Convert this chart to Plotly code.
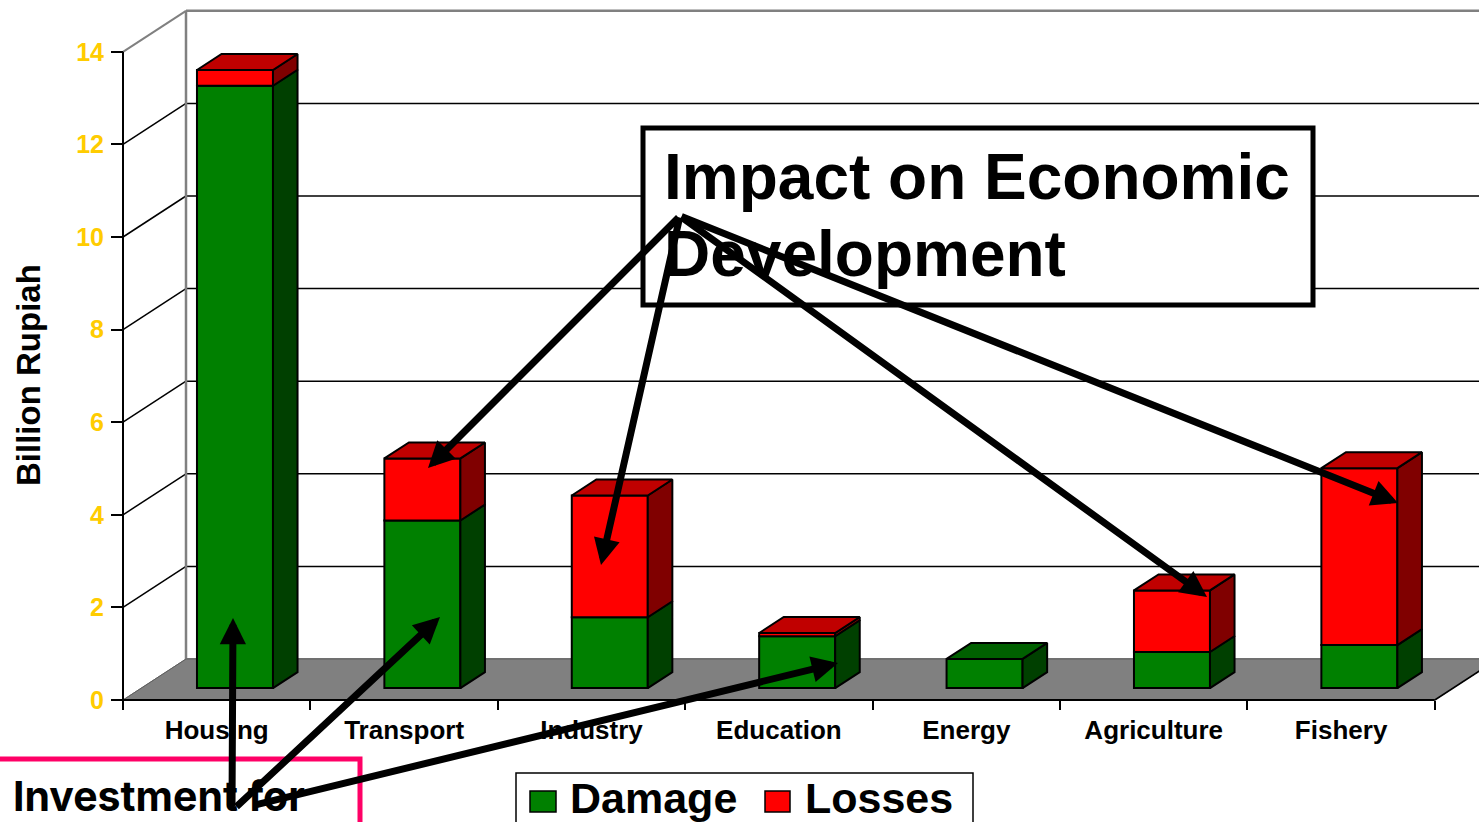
import plotly.graph_objects as go

categories = ["Housing", "Transport", "Industry", "Education", "Energy", "Agriculture", "Fishery"]
damage = [13.01, 3.62, 1.53, 1.12, 0.63, 0.78, 0.93]
losses = [0.34, 1.34, 2.63, 0.07, 0.0, 1.33, 3.82]
y_ticks = [0, 2, 4, 6, 8, 10, 12, 14]

W, H = 1479, 822
X0, PX_CAT = 123, 187.4      # pixel of category edge 0, pixels per category
Y0, PX_VAL = 700, 46.3       # pixel of value 0, pixels per unit
DX, DY = 63, 41              # full depth of the 3D box, pixels
FONT = "Liberation Sans"
BAR_W = 76 / PX_CAT
D_FRONT, D_BACK = 0.29, 0.68


def fx(px):
    return (px - X0) / PX_CAT


def fy(py):
    return (Y0 - py) / PX_VAL


def proj(c, v, d):
    """Project (category position, value, depth 0..1) on to the flat axes."""
    return c + d * DX / PX_CAT, v + d * DY / PX_VAL


centers = [i + 0.5 for i in range(len(categories))]
bar_x = [proj(c, 0, D_FRONT)[0] for c in centers]
base0 = proj(0, 0, D_FRONT)[1]
tops_d = [base0 + v for v in damage]

fig = go.Figure()
fig.add_bar(x=bar_x, y=damage, base=[base0] * 7, width=BAR_W, name="Damage",
            marker=dict(color="#008000", line=dict(color="black", width=2)), showlegend=False)
vis = [l if l > 0 else None for l in losses]
fig.add_bar(x=bar_x, y=vis, base=tops_d, width=BAR_W, name="Losses",
            marker=dict(color="#FF0000", line=dict(color="black", width=2)), showlegend=False)


def side_face(c, v0, v1):
    l = c + BAR_W / 2
    pts = [proj(l, v0, 0), proj(l, v1, 0), proj(l, v1, D_BACK - D_FRONT), proj(l, v0, D_BACK - D_FRONT), proj(l, v0, 0)]
    return pts


def top_face(c, v):
    a, b = c - BAR_W / 2, c + BAR_W / 2
    d = D_BACK - D_FRONT
    return [proj(a, v, 0), proj(b, v, 0), proj(b, v, d), proj(a, v, d), proj(a, v, 0)]


def poly_trace(polys, color, name):
    xs, ys = [], []
    for p in polys:
        xs += [q[0] for q in p] + [None]
        ys += [q[1] for q in p] + [None]
    fig.add_scatter(x=xs, y=ys, mode="lines", fill="toself", fillcolor=color, name=name,
                    line=dict(color="black", width=2), showlegend=False, hoverinfo="skip")


poly_trace([side_face(x, base0, t) for x, t in zip(bar_x, tops_d)], "#004000", "Damage side")
poly_trace([side_face(x, t, t + l) for x, t, l in zip(bar_x, tops_d, losses) if l > 0], "#800000", "Losses side")
poly_trace([top_face(x, t) for x, t, l in zip(bar_x, tops_d, losses) if l == 0], "#006000", "Damage top")
poly_trace([top_face(x, t + l) for x, t, l in zip(bar_x, tops_d, losses) if l > 0], "#C00000", "Losses top")

# ---- walls, floor, gridlines (below the bars)
shapes = []
n = len(categories)
right = fx(W + 10)


def line(p, q, color="black", width=1.5, layer="below"):
    shapes.append(dict(type="line", xref="x", yref="y", x0=p[0], y0=p[1], x1=q[0], y1=q[1],
                       line=dict(color=color, width=width), layer=layer))


fl = [proj(0, 0, 0), proj(n, 0, 0), proj(n, 0, 1), proj(right, 0, 1), proj(0, 0, 1)]
path = "M" + " L".join(f"{a},{b}" for a, b in fl) + " Z"
shapes.append(dict(type="path", xref="x", yref="y", path=path, fillcolor="#808080",
                   line=dict(color="#707070", width=1), layer="below"))
for t in y_ticks[1:-1]:
    line(proj(0, t, 0), proj(0, t, 1))
    line(proj(0, t, 1), proj(right, t, 1))
line(proj(0, 14, 0), proj(0, 14, 1), "#808080", 2)
line(proj(0, 14, 1), proj(right, 14, 1), "#808080", 2.5)
line(proj(0, 0, 1), proj(0, 14, 1), "#808080", 2.5)
line(proj(0, 0, 1), proj(right, 0, 1), "#707070", 2)
line(proj(0, 0, 0), proj(0, 0, 1), "#606060", 1)
line(proj(n, 0, 0), proj(n, 0, 1), "black", 1.5)
line((0, 0), (0, 14), "black", 2)
line((0, 0), (n, 0), "black", 2)


def px_rect(x0, y0, x1, y1, lc, lw, fill="white"):
    shapes.append(dict(type="rect", xref="x", yref="y", x0=fx(x0), y0=fy(y0), x1=fx(x1), y1=fy(y1),
                       line=dict(color=lc, width=lw), fillcolor=fill, layer="above"))


px_rect(643, 128, 1313, 305, "black", 5)
px_rect(-20, 759, 360, 850, "#FF0066", 5)
px_rect(516, 773, 973, 850, "black", 1.5)
px_rect(530, 791, 556, 812, "black", 1.5, "#008000")
px_rect(765, 791, 790, 812, "black", 1.5, "#FF0000")

# ---- texts and arrows
ann = []


def text(px, py, s, size, xanchor="left", family=FONT, color="black", angle=0):
    ann.append(dict(xref="x", yref="y", x=fx(px), y=fy(py), text=f"<b>{s}</b>", showarrow=False,
                    xanchor=xanchor, yanchor="middle", textangle=angle,
                    font=dict(family=family, size=size, color=color)))


def arrow(p0, p1, width=7):
    ann.append(dict(xref="x", yref="y", axref="x", ayref="y", x=fx(p1[0]), y=fy(p1[1]),
                    ax=fx(p0[0]), ay=fy(p0[1]), text="", showarrow=True, arrowhead=2,
                    arrowsize=0.75, arrowwidth=width, arrowcolor="black"))


text(662, 177, "Impact on Economic", 64)
text(662, 254, "Development", 64)
text(11, 796, "Investment for", 41, family="Inter")
text(568, 798, "Damage", 43)
text(803, 798, "Losses", 43)
text(28, 375, "Billion Rupiah", 33, xanchor="center", angle=-90)

for target in [(428, 468), (601, 565), (1207, 597), (1398, 503)]:
    arrow((680, 216), target)
arrow((232, 808), (233, 618))
arrow((235, 808), (440, 617))
arrow((255, 805), (838, 663))

fig.update_layout(
    width=W, height=H, margin=dict(l=0, r=0, t=0, b=0), autosize=False, barmode="overlay",
    paper_bgcolor="white", plot_bgcolor="white", showlegend=False,
    shapes=shapes, annotations=ann, hovermode=False,
    xaxis=dict(range=[fx(0), fx(W)], domain=[0, 1], anchor="free", position=(H - Y0) / H,
               tickmode="array", tickvals=centers, ticktext=categories, ticks="", ticklen=0,
               tickangle=0, ticklabelstandoff=12,
               tickfont=dict(family=FONT, size=26, color="black", weight=700),
               showgrid=False, zeroline=False, showline=False,
               minor=dict(tickmode="array", tickvals=list(range(n + 1)), ticks="outside",
                          ticklen=9, tickwidth=2, tickcolor="black", showgrid=False)),
    yaxis=dict(range=[fy(H), fy(0)], domain=[0, 1], anchor="free", position=X0 / W,
               tickmode="array", tickvals=y_ticks, ticks="outside", ticklen=12, tickwidth=2,
               tickcolor="black", ticklabelstandoff=2,
               tickfont=dict(family=FONT, size=25, color="#FFCC00", weight=700),
               showgrid=False, zeroline=False, showline=False),
)
fig.write_html("out.html", config=dict(displayModeBar=False),
               post_script="document.body.style.margin='0';document.body.style.overflow='hidden';")
